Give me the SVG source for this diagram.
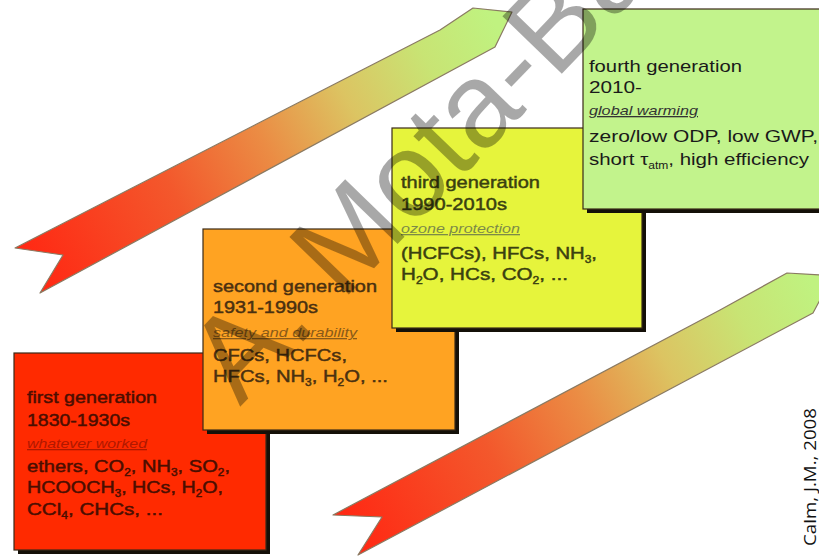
<svg xmlns="http://www.w3.org/2000/svg" width="819" height="556" viewBox="0 0 819 556">
<style>
.box{stroke:#3a2a18;stroke-width:1.2}
.shadow{fill:#141008}
.t{font-family:"Liberation Sans",Arial,sans-serif;font-size:17px}
.b{stroke-width:0.45;paint-order:stroke}
.s{font-family:"Liberation Sans",Arial,sans-serif;font-size:13px;font-style:italic;text-decoration:underline}
.arrow{stroke:#8a7a62;stroke-width:1.2;stroke-linejoin:round}
.wm{font-family:"Liberation Sans",Arial,sans-serif;font-size:120px;fill:#000;fill-opacity:0.34}
.credit{font-family:"Open Sans","Liberation Sans",sans-serif;font-size:17px;fill:#111}
</style>
<defs>
<linearGradient id="gUp" gradientUnits="userSpaceOnUse" x1="40" y1="272" x2="495" y2="25">
<stop offset="0" stop-color="#ff2a14"/>
<stop offset="0.3" stop-color="#f3582c"/>
<stop offset="0.5" stop-color="#eb8c44"/>
<stop offset="0.68" stop-color="#dcc462"/>
<stop offset="0.85" stop-color="#c8e474"/>
<stop offset="1" stop-color="#c0f280"/>
</linearGradient>
<linearGradient id="gLow" gradientUnits="userSpaceOnUse" x1="358" y1="535" x2="815" y2="290">
<stop offset="0" stop-color="#ff2a14"/>
<stop offset="0.3" stop-color="#f3582c"/>
<stop offset="0.5" stop-color="#eb8c44"/>
<stop offset="0.68" stop-color="#dcc462"/>
<stop offset="0.85" stop-color="#c8e474"/>
<stop offset="1" stop-color="#c0f280"/>
</linearGradient>
</defs>
<rect width="819" height="556" fill="#ffffff"/>
<g id="connectors">
<polygon class="arrow" fill="url(#gUp)" points="15,248 440,30 473,8 512,12 495,47 40,293 63,255"/>
<polygon class="arrow" fill="url(#gLow)" points="333,515 720,310 787,273 822,275 822,296 813,313 358,555 382,517"/>
</g>
<g id="gen1">
<rect class="shadow" x="18" y="357" width="252" height="197"/>
<rect class="box" x="14" y="353" width="252" height="197" fill="#ff2a00"/>
<g fill="#4a0e00" stroke="#4a0e00">
<text class="t b" x="27" y="403" textLength="130" lengthAdjust="spacingAndGlyphs">first generation</text>
<text class="t b" x="27" y="426" textLength="103" lengthAdjust="spacingAndGlyphs">1830-1930s</text>
<text class="s" x="27" y="448" textLength="120" lengthAdjust="spacingAndGlyphs" fill="#b01800" stroke="none">whatever worked</text>
<text class="t b" x="27" y="472" textLength="203" lengthAdjust="spacingAndGlyphs">ethers, CO<tspan font-size="10" dy="4">2</tspan><tspan dy="-4">, NH</tspan><tspan font-size="10" dy="4">3</tspan><tspan dy="-4">, SO</tspan><tspan font-size="10" dy="4">2</tspan><tspan dy="-4">,</tspan></text>
<text class="t b" x="27" y="493" textLength="196" lengthAdjust="spacingAndGlyphs">HCOOCH<tspan font-size="10" dy="4">3</tspan><tspan dy="-4">, HCs, H</tspan><tspan font-size="10" dy="4">2</tspan><tspan dy="-4">O,</tspan></text>
<text class="t b" x="27" y="515" textLength="136" lengthAdjust="spacingAndGlyphs">CCl<tspan font-size="10" dy="4">4</tspan><tspan dy="-4">, CHCs, ...</tspan></text>
</g>
</g>
<g id="gen2">
<rect class="shadow" x="207" y="233" width="252" height="201"/>
<rect class="box" x="203" y="229" width="252" height="201" fill="#ffa322"/>
<g fill="#4a3010" stroke="#4a3010">
<text class="t b" x="213" y="292" textLength="164" lengthAdjust="spacingAndGlyphs">second generation</text>
<text class="t b" x="213" y="313" textLength="105" lengthAdjust="spacingAndGlyphs">1931-1990s</text>
<text class="s" x="213" y="337" textLength="144" lengthAdjust="spacingAndGlyphs" fill="#8a5a18" stroke="none">safety and durability</text>
<text class="t b" x="213" y="361" textLength="134" lengthAdjust="spacingAndGlyphs">CFCs, HCFCs,</text>
<text class="t b" x="213" y="382" textLength="175" lengthAdjust="spacingAndGlyphs">HFCs, NH<tspan font-size="10" dy="4">3</tspan><tspan dy="-4">, H</tspan><tspan font-size="10" dy="4">2</tspan><tspan dy="-4">O, ...</tspan></text>
</g>
</g>
<g id="gen3">
<rect class="shadow" x="396" y="132" width="250" height="200"/>
<rect class="box" x="392" y="128" width="250" height="200" fill="#e6f43c"/>
<g fill="#3a4010" stroke="#3a4010">
<text class="t b" x="401" y="188" textLength="139" lengthAdjust="spacingAndGlyphs">third generation</text>
<text class="t b" x="401" y="210" textLength="106" lengthAdjust="spacingAndGlyphs">1990-2010s</text>
<text class="s" x="401" y="233" textLength="119" lengthAdjust="spacingAndGlyphs" fill="#7c8a48" stroke="none">ozone protection</text>
<text class="t b" x="401" y="259" textLength="196" lengthAdjust="spacingAndGlyphs">(HCFCs), HFCs, NH<tspan font-size="10" dy="4">3</tspan><tspan dy="-4">,</tspan></text>
<text class="t b" x="401" y="280" textLength="167" lengthAdjust="spacingAndGlyphs">H<tspan font-size="10" dy="4">2</tspan><tspan dy="-4">O, HCs, CO</tspan><tspan font-size="10" dy="4">2</tspan><tspan dy="-4">, ...</tspan></text>
</g>
</g>
<g id="gen4">
<rect class="shadow" x="587" y="13" width="250" height="200"/>
<rect class="box" x="583" y="9" width="250" height="200" fill="#c2f38c"/>
<g fill="#1a1a1a">
<text class="t" x="589" y="72" textLength="153" lengthAdjust="spacingAndGlyphs">fourth generation</text>
<text class="t" x="589" y="93" textLength="53" lengthAdjust="spacingAndGlyphs">2010-</text>
<text class="s" x="589" y="115" textLength="109" lengthAdjust="spacingAndGlyphs" fill="#333">global warming</text>
<text class="t" x="589" y="142" textLength="229" lengthAdjust="spacingAndGlyphs">zero/low ODP, low GWP,</text>
<text class="t" x="589" y="165" textLength="220" lengthAdjust="spacingAndGlyphs">short τ<tspan font-size="10" dy="4">atm</tspan><tspan dy="-4">, high efficiency</tspan></text>
</g>
</g>
<text class="credit" transform="translate(816,546) rotate(-90)" textLength="138" lengthAdjust="spacingAndGlyphs">Calm, J.M., 2008</text>
<text class="wm" transform="translate(240,407) rotate(-46)">A. Mota-Ba</text>
</svg>
